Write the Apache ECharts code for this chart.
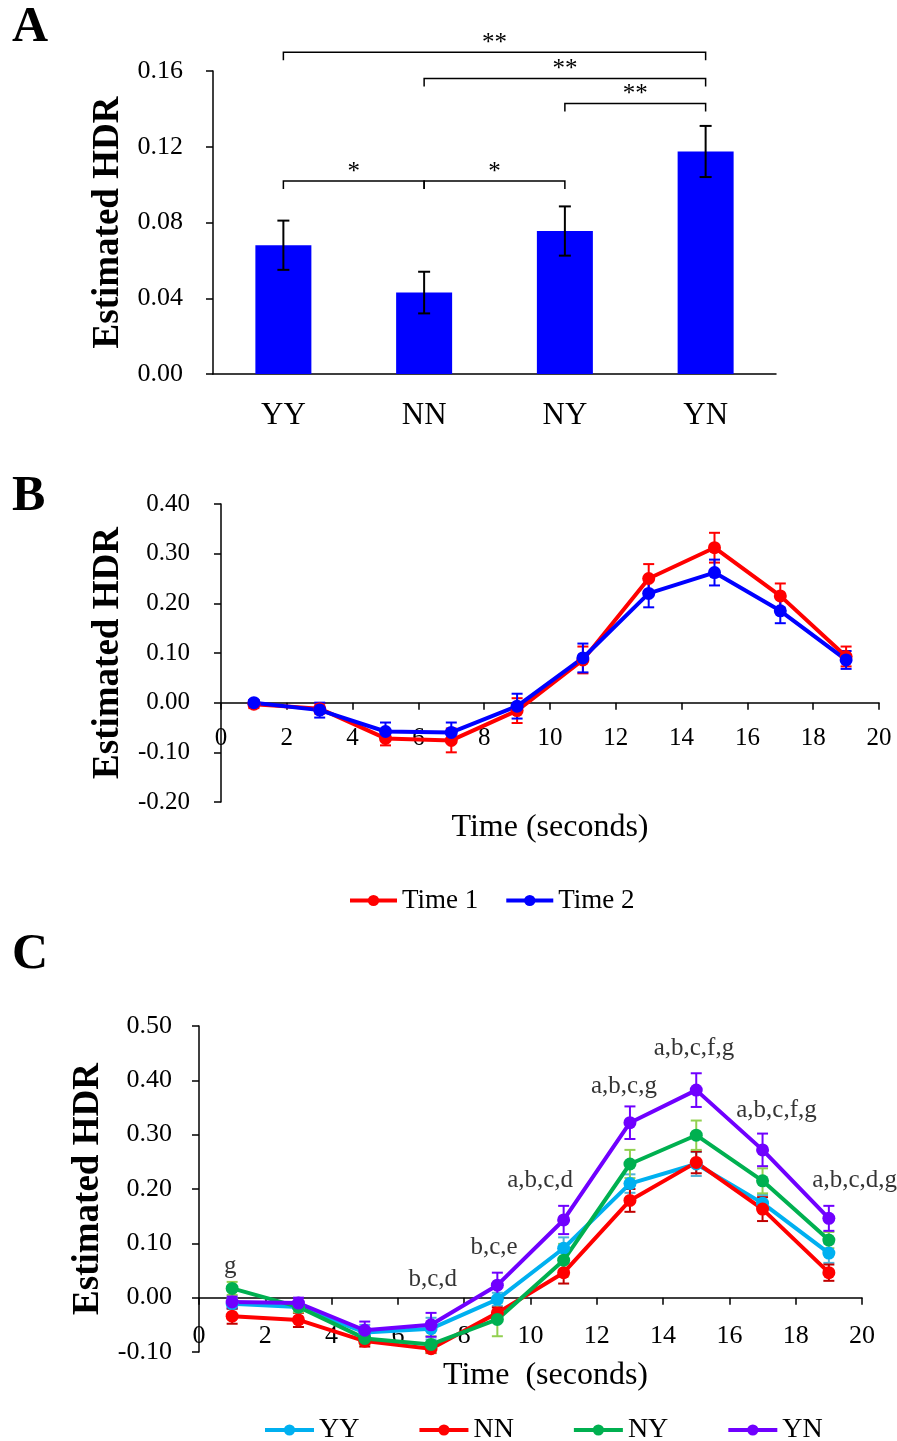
<!DOCTYPE html>
<html>
<head>
<meta charset="utf-8">
<script src="https://cdn.jsdelivr.net/npm/echarts@6/dist/echarts.min.js"></script>
<style>
  html, body { margin: 0; padding: 0; background: #fff; }
  #chart { width: 897px; height: 1441px; }
</style>
</head>
<body>
<div id="chart"></div>
<script>
// ---- Panel A: mean estimated HDR per condition ----
const catsA = ['YY', 'NN', 'NY', 'YN'];
const hdrA = [0.068, 0.043, 0.0755, 0.1175];
const seA = [0.013, 0.011, 0.013, 0.0135];
// significance brackets: category indices spanned, bracket height, stars
const bracketsA = [
  { from: 0, to: 3, level: 0.1699, stars: '**' },
  { from: 1, to: 3, level: 0.1561, stars: '**' },
  { from: 2, to: 3, level: 0.1429, stars: '**' },
  { from: 0, to: 1, level: 0.1019, stars: '*' },
  { from: 1, to: 2, level: 0.1019, stars: '*' }
];

// ---- Panel B: time course, session 1 vs session 2 ----
const timeX = [1, 3, 5, 7, 9, 11, 13, 15, 17, 19];
const time1 = [-0.003, -0.012, -0.072, -0.076, -0.016, 0.086, 0.250, 0.312, 0.215, 0.093];
const time1Se = [0.008, 0.010, 0.014, 0.024, 0.025, 0.027, 0.029, 0.030, 0.025, 0.020];
const time2 = [0.000, -0.015, -0.058, -0.060, -0.007, 0.090, 0.220, 0.262, 0.185, 0.086];
const time2Se = [0.005, 0.015, 0.018, 0.020, 0.025, 0.029, 0.028, 0.026, 0.025, 0.018];

// ---- Panel C: time course per condition ----
const yy = [-0.011, -0.017, -0.064, -0.057, -0.003, 0.091, 0.210, 0.246, 0.174, 0.082];
const yySe = [0.010, 0.010, 0.014, 0.020, 0.012, 0.020, 0.017, 0.022, 0.015, 0.018];
const nn = [-0.034, -0.041, -0.080, -0.094, -0.028, 0.046, 0.179, 0.249, 0.163, 0.046];
const nnSe = [0.014, 0.013, 0.010, 0.008, 0.010, 0.020, 0.021, 0.020, 0.022, 0.015];
const ny = [0.017, -0.017, -0.075, -0.086, -0.040, 0.069, 0.246, 0.299, 0.215, 0.106];
const nySe = [0.012, 0.010, 0.012, 0.015, 0.031, 0.030, 0.026, 0.027, 0.023, 0.015];
const yn = [-0.008, -0.010, -0.060, -0.050, 0.023, 0.143, 0.322, 0.382, 0.272, 0.146];
const ynSe = [0.010, 0.010, 0.016, 0.022, 0.023, 0.026, 0.030, 0.031, 0.030, 0.023];
// pairwise-contrast letters shown above time points
const lettersC = [
  { text: 'g', x: 0.94, y: 0.058 },
  { text: 'b,c,d', x: 7.05, y: 0.033 },
  { text: 'b,c,e', x: 8.9, y: 0.093 },
  { text: 'a,b,c,d', x: 10.29, y: 0.215 },
  { text: 'a,b,c,g', x: 12.82, y: 0.388 },
  { text: 'a,b,c,f,g', x: 14.93, y: 0.458 },
  { text: 'a,b,c,f,g', x: 17.42, y: 0.344 },
  { text: 'a,b,c,d,g', x: 19.78, y: 0.215 }
];

const FONT = "'Liberation Serif', 'Times New Roman', serif";
const BLACK = '#000';

function errData(xs, v, se) {
  return xs.map((x, i) => [x, v[i] - se[i], v[i] + se[i]]);
}

function errRender(color, cap, width) {
  return function (params, api) {
    const x = api.value(0);
    const a = api.coord([x, api.value(2)]);
    const b = api.coord([x, api.value(1)]);
    const st = { stroke: color, lineWidth: width };
    return {
      type: 'group',
      children: [
        { type: 'line', shape: { x1: a[0], y1: a[1], x2: b[0], y2: b[1] }, style: st },
        { type: 'line', shape: { x1: a[0] - cap, y1: a[1], x2: a[0] + cap, y2: a[1] }, style: st },
        { type: 'line', shape: { x1: b[0] - cap, y1: b[1], x2: b[0] + cap, y2: b[1] }, style: st }
      ]
    };
  };
}

function bracketRender(params, api) {
  const br = bracketsA[params.dataIndex];
  const p0 = api.coord([br.from, br.level]);
  const p1 = api.coord([br.to, br.level]);
  const drop = 8;
  return {
    type: 'group',
    children: [
      {
        type: 'polyline',
        shape: { points: [[p0[0], p0[1] + drop], [p0[0], p0[1]], [p1[0], p1[1]], [p1[0], p1[1] + drop]] },
        style: { stroke: BLACK, lineWidth: 1.5, fill: null }
      },
      {
        type: 'text',
        x: (p0[0] + p1[0]) / 2,
        y: p0[1] - 9,
        style: { text: br.stars, fill: BLACK, font: '25px ' + FONT, align: 'center', verticalAlign: 'middle' }
      }
    ]
  };
}

const valAxisCommon = {
  type: 'value',
  axisLine: { show: true, onZero: false, lineStyle: { color: BLACK, width: 1.5 } },
  axisTick: { show: true, length: 7, lineStyle: { color: BLACK, width: 1.5 } },
  splitLine: { show: false }
};

function lineSeries(name, xi, yi, xs, v, color) {
  return {
    name: name, type: 'line', xAxisIndex: xi, yAxisIndex: yi,
    data: xs.map((x, i) => [x, v[i]]),
    symbol: 'circle', symbolSize: 13,
    lineStyle: { color: color, width: 4 },
    itemStyle: { color: color },
    z: 3
  };
}

function errSeries(name, xi, yi, xs, v, se, color) {
  return {
    name: name, type: 'custom', xAxisIndex: xi, yAxisIndex: yi,
    data: errData(xs, v, se),
    encode: { x: 0, y: [1, 2] },
    renderItem: errRender(color, 5.5, 2),
    silent: true, z: 2
  };
}

const titleStyle = { fontFamily: FONT, fontSize: 37, fontWeight: 'bold', color: BLACK, verticalAlign: 'middle' };

const chart = echarts.init(document.getElementById('chart'));

const option = {
  animation: false,
  backgroundColor: '#fff',
  textStyle: { fontFamily: FONT, color: BLACK },
  graphic: [
    { type: 'text', x: 12, y: 28, style: { text: 'A', font: 'bold 50px ' + FONT, fill: BLACK, verticalAlign: 'middle' } },
    { type: 'text', x: 12, y: 497, style: { text: 'B', font: 'bold 50px ' + FONT, fill: BLACK, verticalAlign: 'middle' } },
    { type: 'text', x: 12, y: 955, style: { text: 'C', font: 'bold 50px ' + FONT, fill: BLACK, verticalAlign: 'middle' } }
  ],
  grid: [
    { left: 213, top: 71, width: 563, height: 303 },
    { left: 221, top: 504, width: 658, height: 298 },
    { left: 199, top: 1026, width: 663, height: 326 }
  ],
  legend: [
    {
      data: ['Time 1', 'Time 2'], left: 343, top: 882, itemWidth: 47, itemHeight: 14, itemGap: 26,
      lineStyle: { width: 4 },
      textStyle: { fontFamily: FONT, fontSize: 27, color: BLACK }
    },
    {
      data: ['YY', 'NN', 'NY', 'YN'], left: 258, top: 1411, itemWidth: 49, itemHeight: 14, itemGap: 58,
      lineStyle: { width: 4 },
      textStyle: { fontFamily: FONT, fontSize: 28, color: BLACK }
    }
  ],
  xAxis: [
    {
      type: 'category', gridIndex: 0, data: catsA,
      axisLine: { onZero: false, lineStyle: { color: BLACK, width: 1.5 } },
      axisTick: { show: false },
      axisLabel: { fontFamily: FONT, fontSize: 31, color: BLACK, margin: 26 }
    },
    { type: 'value', gridIndex: 0, min: -0.5, max: 3.5, show: false },
    Object.assign({}, valAxisCommon, {
      gridIndex: 1, min: 0, max: 20, interval: 2,
      axisLine: { show: true, onZero: true, lineStyle: { color: BLACK, width: 1.5 } },
      axisLabel: { fontFamily: FONT, fontSize: 25, color: BLACK, margin: -76 },
      name: 'Time (seconds)', nameLocation: 'middle', nameGap: 26,
      nameTextStyle: { fontFamily: FONT, fontSize: 32, color: BLACK, verticalAlign: 'middle' }
    }),
    Object.assign({}, valAxisCommon, {
      gridIndex: 2, min: 0, max: 20, interval: 2,
      axisLine: { show: true, onZero: true, lineStyle: { color: BLACK, width: 1.5 } },
      axisLabel: { fontFamily: FONT, fontSize: 26, color: BLACK, margin: -29 },
      name: 'Time  (seconds)', nameLocation: 'middle', nameGap: 24,
      nameTextStyle: { fontFamily: FONT, fontSize: 32, color: BLACK, verticalAlign: 'middle', padding: [0, 0, 0, 30] }
    })
  ],
  yAxis: [
    Object.assign({}, valAxisCommon, {
      gridIndex: 0, min: 0, max: 0.16, interval: 0.04,
      axisLabel: { fontFamily: FONT, fontSize: 26, color: BLACK, margin: 30, formatter: v => v.toFixed(2) },
      name: 'Estimated HDR', nameLocation: 'middle', nameGap: 103, nameTextStyle: titleStyle
    }),
    Object.assign({}, valAxisCommon, {
      gridIndex: 1, min: -0.2, max: 0.4, interval: 0.1,
      axisLabel: { fontFamily: FONT, fontSize: 25, color: BLACK, margin: 31, formatter: v => v.toFixed(2) },
      name: 'Estimated HDR', nameLocation: 'middle', nameGap: 111, nameTextStyle: titleStyle
    }),
    Object.assign({}, valAxisCommon, {
      gridIndex: 2, min: -0.1, max: 0.5, interval: 0.1,
      axisLabel: { fontFamily: FONT, fontSize: 26, color: BLACK, margin: 27, formatter: v => v.toFixed(2) },
      name: 'Estimated HDR', nameLocation: 'middle', nameGap: 111, nameTextStyle: titleStyle
    })
  ],
  series: [
    // Panel A
    {
      name: 'HDR', type: 'bar', xAxisIndex: 0, yAxisIndex: 0,
      data: hdrA, barWidth: 56, itemStyle: { color: '#0000FF' }
    },
    {
      name: 'HDR SE', type: 'custom', xAxisIndex: 0, yAxisIndex: 0,
      data: catsA.map((c, i) => [i, hdrA[i] - seA[i], hdrA[i] + seA[i]]),
      encode: { x: 0, y: [1, 2] },
      renderItem: errRender(BLACK, 6, 2), silent: true, z: 4
    },
    {
      name: 'Contrasts', type: 'custom', xAxisIndex: 1, yAxisIndex: 0,
      data: bracketsA.map(b => [b.from, b.level]),
      encode: { x: 0, y: 1 },
      renderItem: bracketRender, clip: false, silent: true
    },
    // Panel B
    errSeries('Time 1 SE', 2, 1, timeX, time1, time1Se, '#FF0000'),
    lineSeries('Time 1', 2, 1, timeX, time1, '#FF0000'),
    errSeries('Time 2 SE', 2, 1, timeX, time2, time2Se, '#0000FF'),
    lineSeries('Time 2', 2, 1, timeX, time2, '#0000FF'),
    // Panel C
    errSeries('YY SE', 3, 2, timeX, yy, yySe, '#4FB3DA'),
    lineSeries('YY', 3, 2, timeX, yy, '#00B0F0'),
    errSeries('NN SE', 3, 2, timeX, nn, nnSe, '#C00000'),
    lineSeries('NN', 3, 2, timeX, nn, '#FF0000'),
    errSeries('NY SE', 3, 2, timeX, ny, nySe, '#92D050'),
    lineSeries('NY', 3, 2, timeX, ny, '#00B050'),
    errSeries('YN SE', 3, 2, timeX, yn, ynSe, '#7000FF'),
    lineSeries('YN', 3, 2, timeX, yn, '#7000FF'),
    {
      name: 'Letters', type: 'scatter', xAxisIndex: 3, yAxisIndex: 2,
      data: lettersC.map(l => ({ name: l.text, value: [l.x, l.y] })),
      symbolSize: 1, itemStyle: { color: 'rgba(0,0,0,0)' }, silent: true, z: 5,
      label: { show: true, position: 'inside', formatter: '{b}', fontFamily: FONT, fontSize: 25, color: BLACK }
    }
  ]
};

chart.setOption(option);
</script>
</body>
</html>
